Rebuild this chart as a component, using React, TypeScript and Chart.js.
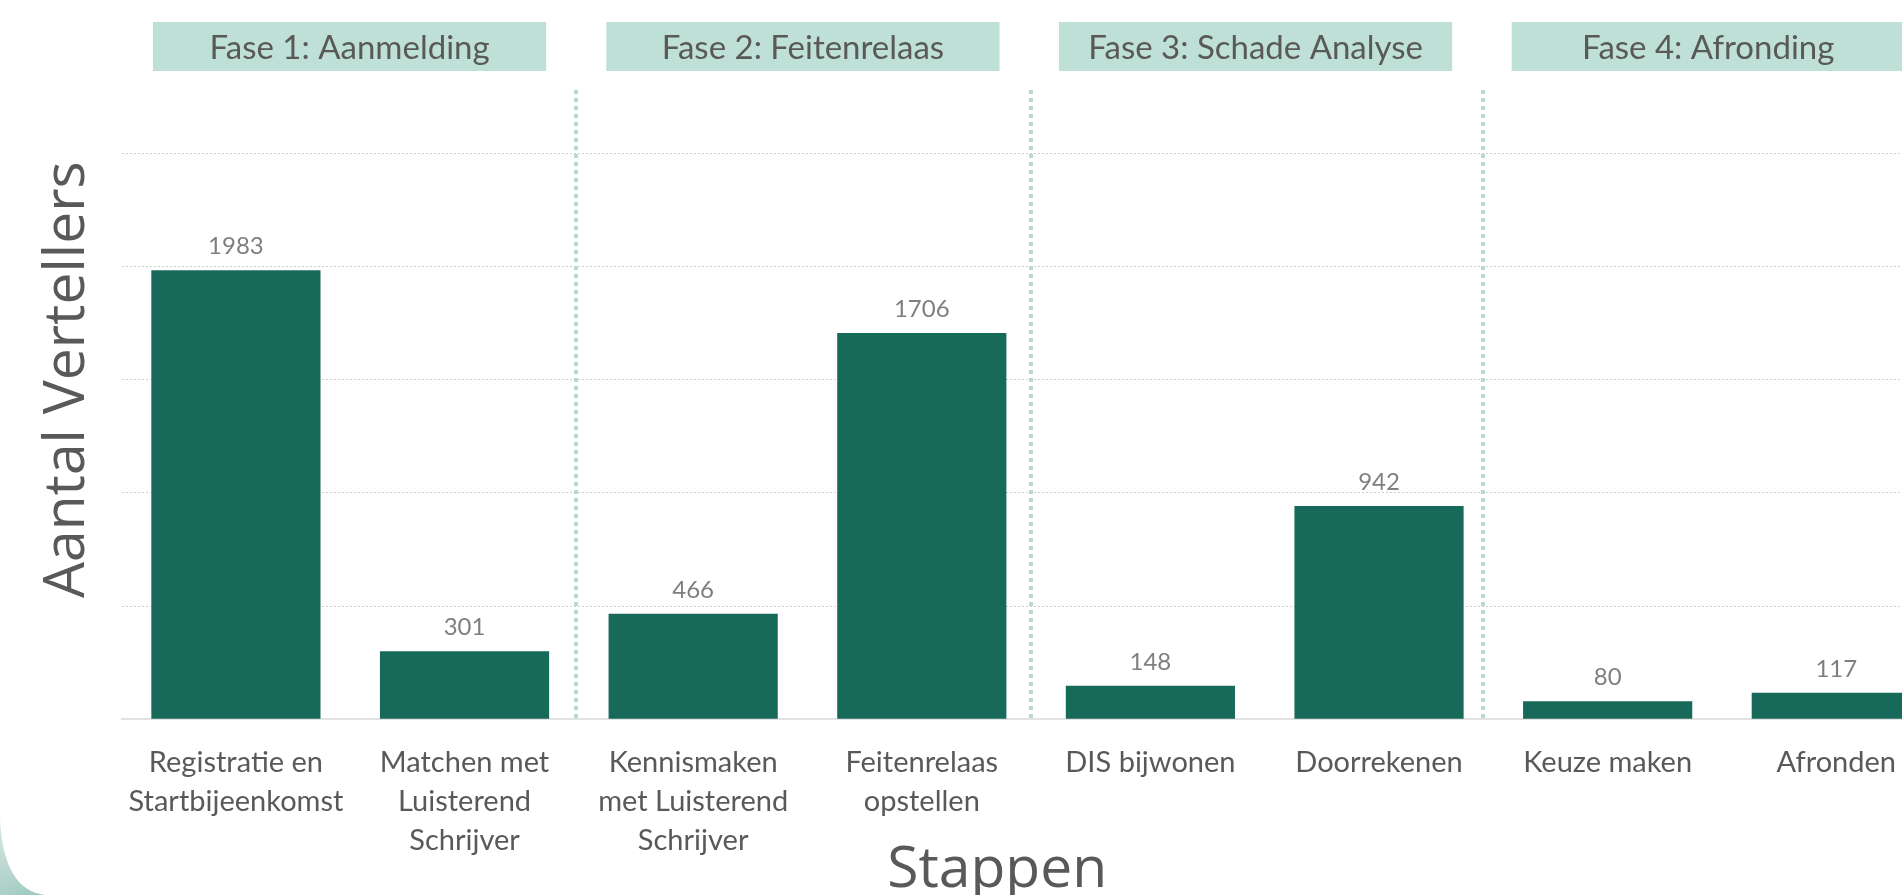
import React, { useEffect, useRef } from "react";
import { Chart, registerables } from "chart.js";

Chart.register(...registerables);

// ---- data ----
const stepLabels: (string | string[])[] = [
  ["Registratie en", "Startbijeenkomst"],
  ["Matchen met", "Luisterend", "Schrijver"],
  ["Kennismaken", "met Luisterend", "Schrijver"],
  ["Feitenrelaas", "opstellen"],
  "DIS bijwonen",
  "Doorrekenen",
  "Keuze maken",
  "Afronden",
];
const vertellers = [1983, 301, 466, 1706, 148, 942, 80, 117];
const phaseLabels = [
  "Fase 1: Aanmelding",
  "Fase 2: Feitenrelaas",
  "Fase 3: Schade Analyse",
  "Fase 4: Afronding",
];
// phase header centres and separator positions, in category units
const phaseCenters = [0.497, 2.48, 4.46, 6.44];
const phaseSpan = 1.72;
const separatorsAt = [1.488, 3.477, 5.455];
const yMin = 0;
const yMax = 2500;
const yStep = 500;
const xTitle = "Stappen";
const yTitle = "Aantal Vertellers";

const BAR = "#17695a";
const TEXT = "#595959";
const LABEL = "#7f7f7f";
const BOX = "#bfe0d7";
const SEP = "#b9d9d0";

const decorPlugin = {
  id: "decor",
  beforeDraw(chart: any) {
    const ctx = chart.ctx as CanvasRenderingContext2D;
    ctx.save();
    ctx.fillStyle = "#ffffff";
    ctx.fillRect(0, 0, chart.width, chart.height);
    // bottom-left corner decoration
    const g = ctx.createLinearGradient(0, 815, 40, 895);
    g.addColorStop(0, "#dcebe7");
    g.addColorStop(1, "#9fc9bf");
    ctx.fillStyle = g;
    ctx.beginPath();
    ctx.moveTo(0, 818);
    ctx.quadraticCurveTo(3, 890, 45, 895);
    ctx.lineTo(0, 895);
    ctx.closePath();
    ctx.fill();
    ctx.restore();
  },
  beforeDatasetsDraw(chart: any) {
    const ctx = chart.ctx as CanvasRenderingContext2D;
    const xs = chart.scales.x;
    const area = chart.chartArea;
    ctx.save();
    ctx.strokeStyle = SEP;
    ctx.lineWidth = 4;
    ctx.setLineDash([4, 4]);
    separatorsAt.forEach((s) => {
      const x = Math.round(xs.getPixelForValue(s));
      ctx.beginPath();
      ctx.moveTo(x, 90);
      ctx.lineTo(x, area.bottom);
      ctx.stroke();
    });
    ctx.restore();
  },
  afterDraw(chart: any) {
    const ctx = chart.ctx as CanvasRenderingContext2D;
    const xs = chart.scales.x;
    const area = chart.chartArea;
    ctx.save();
    // phase header boxes
    const unit = xs.getPixelForValue(1) - xs.getPixelForValue(0);
    phaseLabels.forEach((lab, i) => {
      const cx = xs.getPixelForValue(phaseCenters[i]);
      const w = phaseSpan * unit;
      ctx.fillStyle = BOX;
      ctx.fillRect(cx - w / 2, 22, w, 49);
      ctx.fillStyle = TEXT;
      ctx.font = "33px Lato";
      ctx.textAlign = "center";
      ctx.textBaseline = "alphabetic";
      ctx.fillText(lab, cx, 59);
    });
    // data labels
    const meta = chart.getDatasetMeta(0);
    ctx.font = "24px Lato";
    ctx.fillStyle = LABEL;
    ctx.textAlign = "center";
    ctx.textBaseline = "alphabetic";
    meta.data.forEach((bar: any, i: number) => {
      ctx.fillText(String(vertellers[i]), bar.x, bar.y - 16);
    });
    // axis titles
    ctx.fillStyle = TEXT;
    ctx.font = "400 57px 'Open Sans'";
    ctx.textAlign = "center";
    ctx.textBaseline = "alphabetic";
    ctx.fillText(xTitle, xs.getPixelForValue(3.33), 887);
    ctx.save();
    ctx.translate(84, area.top + 0.4 * (area.bottom - area.top));
    ctx.rotate(-Math.PI / 2);
    ctx.fillText(yTitle, 0, 0);
    ctx.restore();
    ctx.restore();
  },
};

export default function App() {
  const ref = useRef<HTMLCanvasElement | null>(null);
  useEffect(() => {
    if (!ref.current) return;
    const chart = new Chart(ref.current, {
      type: "bar",
      data: {
        labels: stepLabels,
        datasets: [
          {
            data: vertellers,
            backgroundColor: BAR,
            borderWidth: 0,
            categoryPercentage: 1,
            barPercentage: 0.74,
          },
        ],
      },
      options: {
        animation: false,
        responsive: false,
        events: [],
        layout: { padding: { top: 153.3, left: 121.6, right: 49.4, bottom: 0 } },
        plugins: {
          legend: { display: false },
          tooltip: { enabled: false },
          title: { display: false },
        },
        scales: {
          x: {
            grid: { display: false, drawTicks: false },
            border: { display: true, color: "#e2e2e2", width: 2 },
            ticks: {
              autoSkip: false,
              maxRotation: 0,
              minRotation: 0,
              padding: 24,
              color: TEXT,
              font: { family: "Lato", size: 29, lineHeight: 1.345 },
            },
            afterFit: (scale: any) => {
              scale.height = 175.7;
            },
          },
          y: {
            min: yMin,
            max: yMax,
            ticks: { display: false, stepSize: yStep },
            grid: {
              drawTicks: false,
              lineWidth: 1,
              color: (c: any) => (c.tick && c.tick.value === 0 ? "rgba(0,0,0,0)" : "#cfcfcf"),
            },
            border: { display: false, dash: [2, 2] },
            afterFit: (scale: any) => {
              scale.width = 0;
            },
          },
        },
      },
      plugins: [decorPlugin],
    } as any);
    return () => chart.destroy();
  }, []);
  return (
    <div
      style={{
        position: "fixed",
        left: 0,
        top: 0,
        width: 1902,
        height: 895,
        overflow: "hidden",
        background: "#fff",
      }}
    >
      <canvas ref={ref} width={2000} height={895} style={{ display: "block" }} />
    </div>
  );
}
